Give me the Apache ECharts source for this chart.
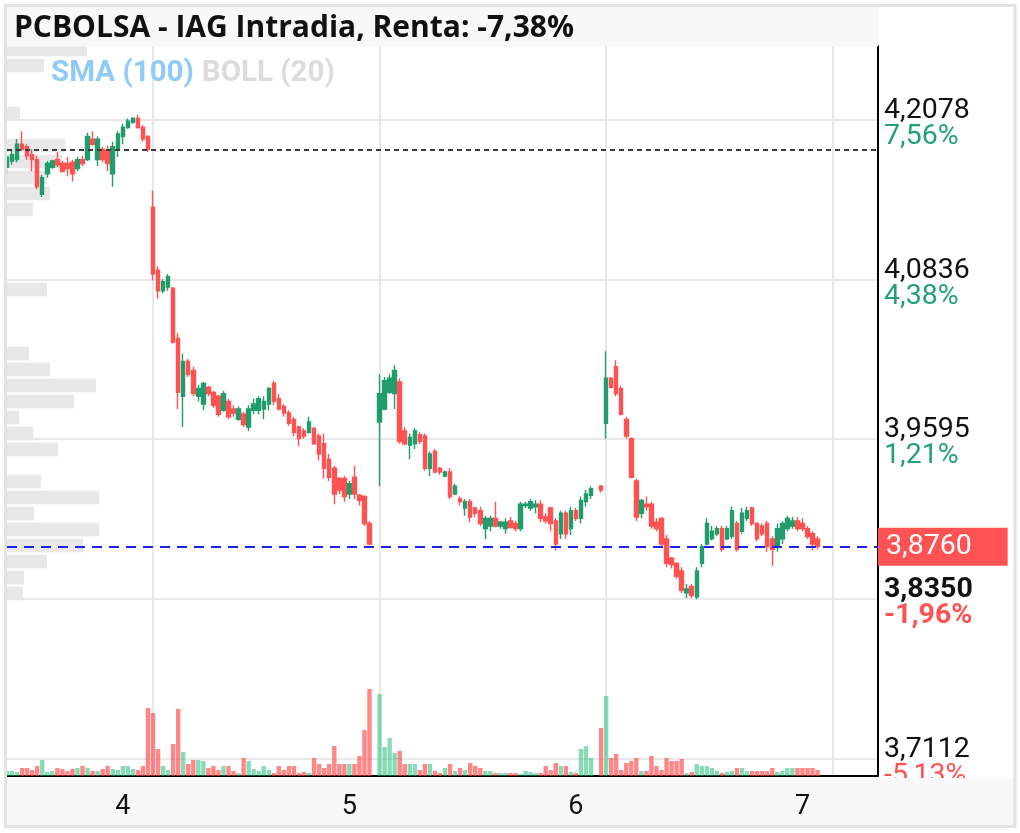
<!DOCTYPE html>
<html><head><meta charset="utf-8">
<script src="https://cdn.jsdelivr.net/npm/echarts@6/dist/echarts.min.js"></script>
<style>html,body{margin:0;padding:0;background:#fff}#c{width:1020px;height:833px}</style>
</head><body><div id="c"></div>
<script>
// ---------------- DATA ----------------
const chartTitle = 'PCBOLSA - IAG Intradia, Renta: -7,38%';
const indicatorNames = ['SMA (100)', 'BOLL (20)'];
const previousClose = 4.1849;
const currentPrice = 3.876;
const dayLowLabel = '3,8350';
const priceTickLabels = ['3,7112', '3,8350', '3,9595', '4,0836', '4,2078'];
const pctTickLabels = ['-5,13%', '-1,96%', '1,21%', '4,38%', '7,56%'];
const dayLabels = ['4', '5', '6', '7'];
const E = ['-', '-', '-', '-'];
// rows: [open, close, low, high]
const day3 = [
[4.171,4.179,4.166,4.181],[4.176,4.181,4.173,4.184],[4.177,4.189,4.175,4.193],[4.189,4.185,4.184,4.199],
[4.187,4.180,4.177,4.189],[4.181,4.177,4.168,4.185],[4.177,4.156,4.154,4.180],[4.150,4.163,4.148,4.165],
[4.166,4.174,4.163,4.176],[4.171,4.176,4.170,4.177],[4.177,4.173,4.171,4.183],[4.174,4.168,4.167,4.176],
[4.174,4.170,4.164,4.179],[4.175,4.166,4.160,4.177],[4.170,4.177,4.168,4.179],[4.177,4.174,4.172,4.180],
[4.177,4.195,4.176,4.198],[4.193,4.189,4.188,4.199],[4.177,4.193,4.172,4.195],[4.185,4.177,4.175,4.187],
[4.184,4.174,4.168,4.188],[4.166,4.187,4.156,4.191],[4.185,4.197,4.179,4.199],[4.195,4.202,4.189,4.205],
[4.202,4.207,4.201,4.209],[4.206,4.209,4.205,4.210],[4.209,4.202,4.201,4.212],[4.202,4.193,4.191,4.204],
[4.195,4.185,4.183,4.196]
];
const day4 = [
[4.140,4.088,4.083,4.153],[4.091,4.075,4.069,4.094],[4.075,4.082,4.073,4.084],[4.078,4.086,4.075,4.088],
[4.077,4.035,4.034,4.078],[4.038,3.996,3.983,4.042],[3.993,4.020,3.969,4.026],[4.020,4.010,4.008,4.022],
[4.013,3.995,3.993,4.016],[3.993,3.999,3.989,4.002],[3.987,4.003,3.982,4.004],[4.000,3.995,3.993,4.001],
[3.996,3.986,3.984,3.997],[3.993,3.979,3.977,3.994],[3.982,3.995,3.981,3.997],[3.989,3.977,3.975,3.991],
[3.983,3.980,3.977,3.986],[3.975,3.983,3.974,3.985],[3.979,3.971,3.969,3.981],[3.969,3.983,3.966,3.986],
[3.982,3.987,3.979,3.991],[3.982,3.991,3.979,3.993],[3.983,3.989,3.975,3.993],[3.987,3.999,3.982,4.000],
[4.003,3.989,3.986,4.005],[3.991,3.983,3.982,3.995],[3.985,3.980,3.977,3.987],[3.980,3.972,3.970,3.982],
[3.975,3.965,3.962,3.977],[3.969,3.960,3.954,3.970],[3.966,3.962,3.960,3.968],[3.965,3.973,3.964,3.977],
[3.968,3.956,3.955,3.969],[3.962,3.948,3.943,3.964],[3.956,3.937,3.929,3.964],[3.944,3.930,3.927,3.948],
[3.937,3.917,3.909,3.939],[3.929,3.920,3.917,3.930],[3.929,3.915,3.911,3.931],[3.917,3.925,3.913,3.927],
[3.930,3.917,3.913,3.939],[3.916,3.912,3.908,3.917],[3.915,3.894,3.892,3.916],[3.894,3.878,3.877,3.896],
E
];
const day5 = [
[3.973,3.995,3.923,4.010],[3.983,4.005,3.982,4.008],[3.996,4.007,3.995,4.010],[3.995,4.013,3.983,4.017],
[4.004,3.958,3.956,4.007],[3.966,3.956,3.955,3.969],[3.955,3.961,3.944,3.964],[3.956,3.966,3.952,3.968],
[3.963,3.958,3.956,3.965],[3.962,3.937,3.935,3.964],[3.937,3.948,3.931,3.950],[3.950,3.934,3.933,3.952],
[3.937,3.934,3.932,3.938],[3.931,3.934,3.930,3.935],[3.934,3.915,3.913,3.937],[3.917,3.923,3.916,3.925],
[3.913,3.911,3.908,3.915],[3.906,3.911,3.900,3.913],[3.911,3.899,3.895,3.913],[3.906,3.902,3.899,3.907],
[3.904,3.894,3.892,3.907],[3.890,3.898,3.882,3.900],[3.892,3.898,3.888,3.900],[3.898,3.892,3.891,3.911],
[3.892,3.895,3.890,3.896],[3.890,3.895,3.886,3.898],[3.896,3.891,3.890,3.899],[3.894,3.890,3.888,3.896],
[3.890,3.909,3.888,3.911],[3.908,3.909,3.906,3.911],[3.906,3.911,3.904,3.913],[3.907,3.909,3.902,3.912],
[3.909,3.898,3.895,3.912],[3.899,3.896,3.894,3.902],[3.906,3.894,3.888,3.907],[3.896,3.878,3.873,3.898],
[3.886,3.902,3.882,3.904],[3.902,3.886,3.882,3.904],[3.890,3.904,3.885,3.907],[3.904,3.898,3.896,3.906],
[3.898,3.912,3.894,3.915],[3.911,3.917,3.907,3.920],[3.916,3.921,3.913,3.923],E,
[3.923,3.920,3.918,3.924]
];
const day6 = [
[3.972,4.007,3.960,4.028],[4.007,4.000,3.999,4.008],[4.016,3.995,3.993,4.021],[3.999,3.979,3.978,4.001],
[3.975,3.962,3.960,3.977],[3.960,3.930,3.929,3.961],[3.927,3.899,3.896,3.929],[3.902,3.912,3.898,3.913],
[3.909,3.907,3.904,3.915],[3.909,3.892,3.890,3.911],[3.895,3.890,3.888,3.898],[3.898,3.878,3.876,3.899],
[3.882,3.863,3.860,3.885],[3.867,3.862,3.859,3.868],[3.863,3.853,3.851,3.864],[3.857,3.842,3.840,3.860],
[3.840,3.843,3.836,3.847],[3.845,3.838,3.836,3.847],[3.837,3.857,3.835,3.860],[3.863,3.876,3.860,3.878],
[3.878,3.894,3.877,3.898],[3.882,3.888,3.881,3.892],[3.886,3.890,3.884,3.892],[3.890,3.874,3.872,3.892],
[3.882,3.890,3.881,3.892],[3.884,3.904,3.882,3.907],[3.894,3.874,3.872,3.896],[3.888,3.902,3.886,3.906],
[3.898,3.904,3.896,3.907],[3.906,3.894,3.892,3.907],[3.894,3.882,3.880,3.895],[3.892,3.886,3.884,3.894],
[3.894,3.876,3.872,3.896],[3.882,3.874,3.861,3.884],[3.876,3.890,3.872,3.894],[3.882,3.894,3.878,3.896],
[3.890,3.898,3.888,3.900],[3.892,3.896,3.890,3.899],[3.896,3.890,3.888,3.899],[3.894,3.890,3.888,3.898],
[3.890,3.884,3.882,3.892],[3.886,3.878,3.873,3.888],[3.882,3.876,3.874,3.884]
];
const vol3 = [250,250,200,400,400,300,500,800,200,250,400,350,250,350,400,500,400,250,250,350,500,350,300,500,500,350,300,500,3400];
const vol4 = [3150,1350,500,300,1600,3350,1200,600,800,800,750,400,500,300,500,500,250,150,900,750,350,250,500,300,150,500,300,500,500,150,200,150,900,600,400,600,1500,600,600,600,600,1000,2300,4350,'-'];
const vol5 = [4100,1450,1900,1150,1250,600,600,600,300,600,600,250,150,400,600,250,400,300,650,500,400,250,250,150,150,150,150,150,100,250,200,150,150,500,300,650,500,500,200,150,1350,1500,900,'-',2400];
const vol6 = [4000,900,1100,300,650,750,900,250,250,1000,500,300,900,750,750,850,150,200,600,500,500,400,250,150,200,250,400,400,250,250,250,250,250,400,200,250,400,400,400,400,400,400,300];
// volume-by-price profile, bins upward from the day low
const profileBinStart = 3.835;
const profileBinStep = 0.012415;
const profileVolume = [1600,1700,4000,7600,9200,2700,9200,3400,0,5100,2600,1200,6700,8900,4300,2200,0,0,0,4000,0,0,0,0,2600,4300,4000,5500,5800,0,1300,0,0,3700,8000];

// ---------------- BUILD ----------------
const TOTAL = 174;
let ohlc = [].concat(day3, day4, day5, day6);
let vols = [].concat(vol3, vol4, vol5, vol6);
while (ohlc.length < TOTAL) { ohlc.push(E); vols.push('-'); }
const slots = ohlc.map((_, i) => 'b' + i);
const UP = '#229c6c', DOWN = '#ff5252';
const volData = vols.map((v, i) => {
  const r = ohlc[i];
  const up = r[0] !== '-' && r[1] >= r[0];
  return { value: v, itemStyle: { color: up ? 'rgba(38,190,120,0.55)' : 'rgba(255,70,70,0.65)' } };
});
const binNames = profileVolume.map((_, k) => (profileBinStart + k * profileBinStep).toFixed(4));
const fmt4 = v => v.toFixed(4).replace('.', ',');
const tickMin = 3.7112, tickMax = 4.2078, tickStep = (tickMax - tickMin) / 4;
const labelIdx = [23, 68, 113, 158];
const gridIdx = [29, 74, 119, 164];

const FONT = 'Roboto';
const LBL = 28.5;
const option = {
  animation: false,
  backgroundColor: '#ffffff',
  title: {
    text: chartTitle, left: 9, top: 8, z: 8,
    textStyle: { fontFamily: 'Open Sans', fontWeight: 'bold', fontSize: 30, color: '#111' }
  },
  legend: {
    left: 41, top: 54, icon: 'none', itemWidth: 0, itemHeight: 0, itemGap: 3,
    selectedMode: false,
    inactiveColor: '#dcdcdc',
    selected: { 'BOLL (20)': false },
    data: [
      { name: indicatorNames[0], textStyle: { color: '#90caf9' } },
      { name: indicatorNames[1], textStyle: { color: '#dcdcdc' } }
    ],
    textStyle: { fontFamily: FONT, fontWeight: 'bold', fontSize: 29.5, padding: 0 }
  },
  grid: [
    { left: 7, right: 142, top: 46, bottom: 57 },
    { left: 7, right: 142, top: 656, bottom: 57 },
    { left: 7, right: 142, top: 120, bottom: 74.5 },
    { left: 7, right: 142, top: 41.5, height: 560 }
  ],
  xAxis: [
    { type: 'category', gridIndex: 0, data: slots, boundaryGap: false,
      axisLine: { show: true, lineStyle: { color: '#000', width: 2 } },
      axisTick: { show: false }, axisLabel: { show: false },
      splitLine: { show: true, interval: (i) => gridIdx.includes(i), lineStyle: { color: '#e8e8e8', width: 2 } } },
    { type: 'category', gridIndex: 1, data: slots, boundaryGap: false, z: 9,
      axisLine: { show: false }, axisTick: { show: false }, splitLine: { show: false },
      axisLabel: { show: true, interval: (i) => labelIdx.includes(i), margin: 18,
        formatter: (v, i) => { const k = labelIdx.indexOf(i); return k >= 0 ? dayLabels[k] : ''; },
        fontFamily: FONT, fontSize: 27, color: '#111' } },
    { type: 'value', gridIndex: 2, show: false, min: 0, max: 1 },
    { type: 'value', gridIndex: 3, show: false, min: 0, max: 87100 }
  ],
  yAxis: [
    { type: 'value', gridIndex: 0, position: 'right', min: 3.6976, max: 4.2654, scale: true,
      axisLine: { show: true, lineStyle: { color: '#000', width: 2 } },
      axisTick: { show: false }, axisLabel: { show: false }, splitLine: { show: false } },
    { type: 'value', gridIndex: 1, show: false, min: 0, max: 6000 },
    { type: 'value', gridIndex: 2, position: 'right', min: tickMin, max: tickMax, interval: tickStep,
      axisLine: { show: false }, axisTick: { show: false },
      splitLine: { show: true, lineStyle: { color: '#e8e8e8', width: 2 } },
      axisLabel: { show: true, margin: 6, padding: [8, 0, 0, 0],
        formatter: (val) => {
          const i = Math.round((val - tickMin) / tickStep);
          if (Math.abs(tickMin + i * tickStep - val) > 0.001 || i < 0 || i >= priceTickLabels.length) return '';
          const p = priceTickLabels[i], q = pctTickLabels[i];
          const low = p === dayLowLabel;
          return '{' + (low ? 'pb' : 'p') + '|' + p + '}\n{' + (q[0] === '-' ? 'r' : 'g') + (low ? 'b' : '') + '|' + q + '}';
        },
        rich: {
          p: { fontFamily: FONT, fontSize: LBL, color: '#111', lineHeight: 26 },
          pb: { fontFamily: FONT, fontSize: LBL, color: '#111', fontWeight: 'bold', lineHeight: 26 },
          g: { fontFamily: FONT, fontSize: LBL, color: '#24a079', lineHeight: 26 },
          r: { fontFamily: FONT, fontSize: LBL, color: '#ff5252', lineHeight: 26 },
          rb: { fontFamily: FONT, fontSize: LBL, color: '#ff5252', fontWeight: 'bold', lineHeight: 26 }
        } } },
    { type: 'category', gridIndex: 3, data: binNames, show: false }
  ],
  series: [
    { name: 'profile', type: 'bar', xAxisIndex: 3, yAxisIndex: 3, data: profileVolume, z: 1,
      barCategoryGap: '15%', itemStyle: { color: '#e8e8e8' }, silent: true },
    { name: 'volume', type: 'bar', xAxisIndex: 1, yAxisIndex: 1, data: volData, barWidth: 4.4, z: 2, silent: true },
    { name: 'price', type: 'candlestick', xAxisIndex: 0, yAxisIndex: 0, data: ohlc, barWidth: 4, z: 3,
      itemStyle: { color: UP, color0: DOWN, borderColor: UP, borderColor0: DOWN, borderWidth: 1.4 },
      markLine: {
        silent: true, symbol: ['none', 'none'], animation: false, precision: 4,
        data: [
          { yAxis: previousClose, lineStyle: { color: '#3a3a3a', type: [5, 4], width: 2 }, label: { show: false } },
          { yAxis: currentPrice, lineStyle: { color: '#2020e8', type: [10, 7], width: 2 },
            label: { show: true, position: 'end', distance: 0, formatter: fmt4(currentPrice),
              color: '#fff', backgroundColor: '#ff5252', fontFamily: FONT, fontSize: LBL,
              padding: [5, 36, 4, 8] } }
        ]
      } },
    { name: indicatorNames[0], type: 'line', xAxisIndex: 0, yAxisIndex: 0, data: [] },
    { name: indicatorNames[1], type: 'line', xAxisIndex: 0, yAxisIndex: 0, data: [] }
  ],
  graphic: [
    { type: 'rect', z: 7, shape: { x: 7, y: 7, width: 871, height: 39.5 }, style: { fill: '#f8f8f8' }, silent: true },
    { type: 'rect', z: 7, shape: { x: 7, y: 778, width: 1007, height: 48 }, style: { fill: '#f8f8f8' }, silent: true },
    { type: 'rect', z: 20, shape: { x: 5.5, y: 5.5, width: 1009.5, height: 821 }, style: { fill: null, stroke: '#e2e2e2', lineWidth: 3 }, silent: true }
  ]
};
const chart = echarts.init(document.getElementById('c'), null, { renderer: 'canvas' });
chart.setOption(option);
</script></body></html>
